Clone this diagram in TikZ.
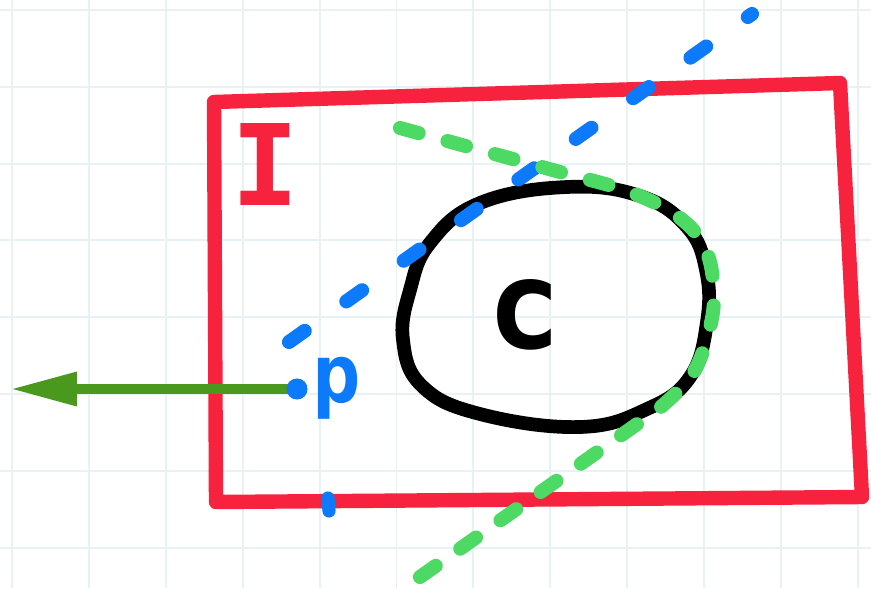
\documentclass[tikz,border=0pt]{standalone}
\usepackage{fontspec}
\newfontfamily\handfont{DejaVu Sans Mono}
\usepackage{tikz}
\usetikzlibrary{arrows.meta}
\usepackage{xcolor}
\definecolor{penred}{RGB}{246,34,62}
\definecolor{penblue}{RGB}{12,122,250}
\definecolor{pengreen}{RGB}{76,217,100}
\definecolor{arrowgreen}{RGB}{74,152,30}
\definecolor{gridblue}{RGB}{230,242,244}

\begin{document}
\begin{tikzpicture}[x=0.02cm, y=-0.02cm,
    gridline/.style={draw=gridblue, line width=1.1pt},
    redpen/.style={draw=penred, line width=8.2pt, line cap=round, line join=round},
    blackpen/.style={draw=black, line width=7.8pt},
    bluepen/.style={draw=penblue, line width=8pt, line cap=round, dash pattern=on 11pt off 29pt},
    greenpen/.style={draw=pengreen, line width=8pt, line cap=round, dash pattern=on 11pt off 17pt},
    arrowpen/.style={draw=arrowgreen, line width=5.9pt, -{Triangle[length=38pt,width=18pt]}},
    hand/.style={font=\handfont\bfseries, anchor=base, inner sep=0pt}]
  \fill[white] (0,0) rectangle (871,588);
  \useasboundingbox (0,0) rectangle (871,588);

  \foreach \i in {0,...,11}
    \draw[gridline] ({12+76.9*\i},0) -- ({12+76.9*\i},588);
  \foreach \j in {0,...,7}
    \draw[gridline] (0,{10+76.8*\j}) -- (871,{10+76.8*\j});

  \coordinate (rTL) at (214,102);
  \coordinate (rTR) at (840,83);
  \coordinate (rBR) at (862,497);
  \coordinate (rBL) at (216,502);
  \coordinate (blueLow)  at (289,342);
  \coordinate (blueHigh) at (752,14);
  \coordinate (tickTop) at (328,498);
  \coordinate (tickBot) at (329,511);
  \coordinate (arrowTip) at (10,389);

  \draw[redpen] (rTL) -- (rTR) -- (rBR) -- (rBL) -- cycle;
  \node[hand, text=penred, font=\handfont\bfseries\fontsize{64}{64}\selectfont] (setI) at (265,205) {I};

  \draw[blackpen] plot[smooth cycle, tension=0.7] coordinates
    {(567,187) (640,196) (687,227) (706,270) (707,322) (690,377) (647,409)
     (580,427) (480,414) (422,386) (403,340) (410,290) (430,243) (480,203)};
  \node[hand, text=black, font=\handfont\bfseries\fontsize{70}{70}\selectfont] (setC) at (525,348) {c};

  \draw[bluepen] (blueLow) -- (blueHigh);
  \draw[greenpen] plot[smooth, tension=0.6] coordinates
    {(400,128) (480,150) (560,172) (630,192) (680,218) (706,250) (714,295)
     (708,335) (692,375) (662,406) (640,422)} -- (410,584);

  \draw[arrowpen] (297,389) -- (arrowTip);
  \node[circle, fill=penblue, minimum size=12pt, inner sep=0pt] (pdot) at (297,389) {};
  \draw[penblue, line width=7.5pt, line cap=round] (tickTop) -- (tickBot);
  \node[hand, text=penblue, font=\handfont\bfseries\fontsize{46}{46}\selectfont] (ptP) at (337,402) {p};
\end{tikzpicture}
\end{document}
